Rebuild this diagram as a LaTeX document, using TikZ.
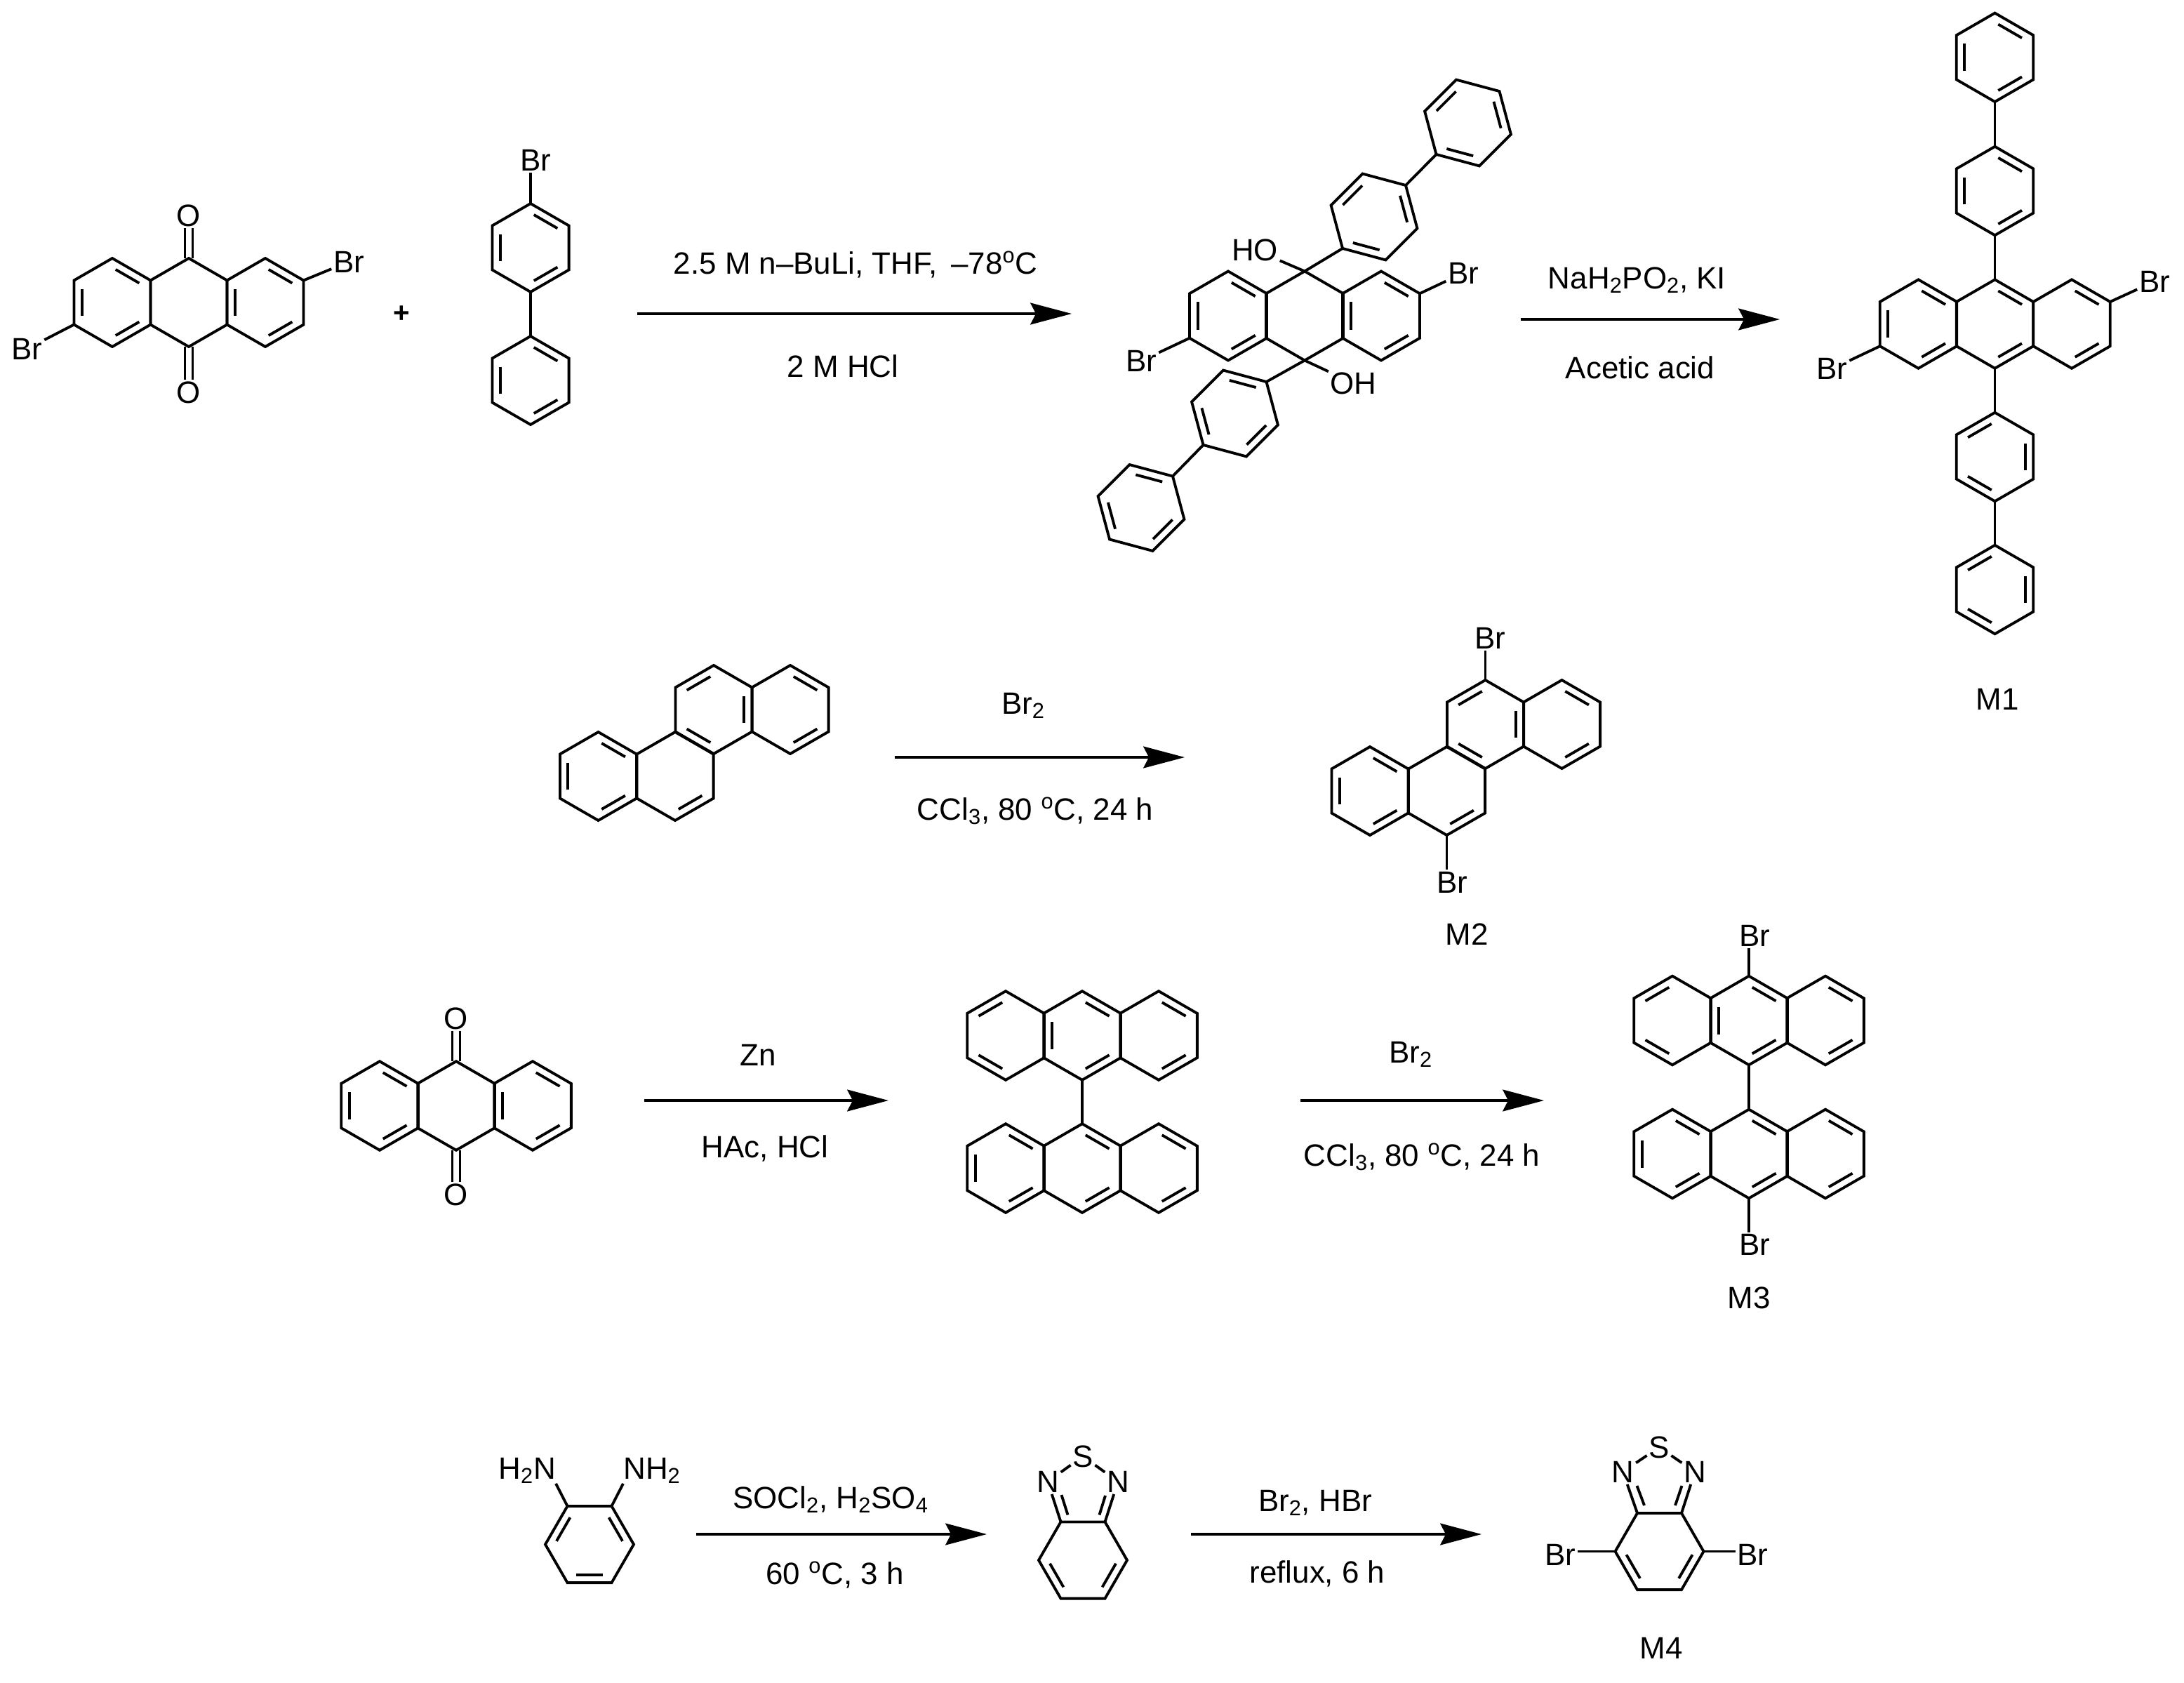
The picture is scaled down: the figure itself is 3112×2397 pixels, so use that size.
\documentclass[tikz,border=0pt]{standalone}
\usepackage{fontspec}
\setmainfont{Liberation Sans}
\usetikzlibrary{calc,arrows.meta}
\tikzset{
  bond/.style={line width=2.2pt,line join=miter,black},
  atom/.style={font=\fontsize{25}{30}\selectfont,inner sep=1.4pt,black},
  reagent/.style={font=\fontsize{25}{30}\selectfont,inner sep=0pt,anchor=base,black},
  rarrow/.style={line width=1.8pt,black,-{Stealth[length=33.5pt,width=17.6pt,inset=4.5pt]}},
}
% name, cx, cy, radius, rotation, list of double bonds
\newcommand\hexring[6]{%
  \coordinate (#1-c) at (#2,#3);
  \foreach \i in {1,...,6}{\coordinate (#1-\i) at ($(#2,#3)+({#5+60*(\i-1)}:#4)$);}
  \draw[bond] (#1-1) -- (#1-2) -- (#1-3) -- (#1-4) -- (#1-5) -- (#1-6) -- cycle;
  \foreach \b in {#6}{%
    \pgfmathtruncatemacro\nxt{mod(\b,6)+1}
    \draw[bond] ($($(#1-\b)!.11!(#1-\nxt)$)!.21!(#1-c)$) -- ($($(#1-\nxt)!.11!(#1-\b)$)!.21!(#1-c)$);
  }%
}
\begin{document}
\begin{tikzpicture}[x=.02cm,y=-.02cm]
\useasboundingbox (0,0) rectangle (3112,2397);
\fill[white] (0,0) rectangle (3112,2397);
% ---------- dibromoanthraquinone
\hexring{a}{160}{431}{63}{-90}{1,5,3}
\hexring{b}{269}{431}{63}{-90}{}
\hexring{d}{378}{431}{63}{-90}{1,3,5}
\node[atom] (aBrR) at (497,373) {Br};
\node[atom] (aBrL) at (38.5,497) {Br};
\node[atom] (aO1) at (269,307) {O};
\node[atom] (aO2) at (269,559) {O};
\draw[bond] (d-2) -- (aBrR);
\draw[bond] (a-5) -- (aBrL);
\draw[bond] ($(b-1)+(-5.5,0)$) -- ($(aO1.south)+(-5.5,0)$);
\draw[bond] ($(b-1)+(5.5,0)$) -- ($(aO1.south)+(5.5,0)$);
\draw[bond] ($(b-4)+(-5.5,0)$) -- ($(aO2.north)+(-5.5,0)$);
\draw[bond] ($(b-4)+(5.5,0)$) -- ($(aO2.north)+(5.5,0)$);
\node[atom,font=\fontsize{23}{28}\selectfont\bfseries] (plus) at (572,448) {+};
% ---------- 4-bromobiphenyl
\hexring{e}{756}{353}{63}{-90}{1,5,3}
\hexring{f}{756}{542}{63}{-90}{1,5,3}
\node[atom] (eBr) at (763,228) {Br};
\draw[bond] (e-1) -- (eBr.south -| e-1);
\draw[bond] (e-4) -- (f-1);
% ---------- arrow 1
\coordinate (r1s) at (907.5,447);
\coordinate (r1e) at (1527,447);
\draw[rarrow] (r1s) -- (r1e);
\node[reagent] (r1a) at (1219,390) {2.5 M n–BuLi, THF,\, –78\textsuperscript{o}C};
\node[reagent] (r1b) at (1201,537) {2 M HCl};
% ---------- diol
\hexring{g}{1750}{450}{63.5}{-90}{1,5,3}
\hexring{h}{1859}{450}{63.5}{-90}{}
\hexring{k}{1968}{450}{63.5}{-90}{1,3,5}
\node[atom] (gBrR) at (2085,389) {Br};
\node[atom] (gBrL) at (1626.5,514) {Br};
\node[atom] (gHO) at (1788,356) {HO};
\node[atom] (gOH) at (1928.6,546) {OH};
\draw[bond] (k-2) -- (gBrR);
\draw[bond] (g-5) -- (gBrL);
\draw[bond] (h-1) -- (gHO);
\draw[bond] (h-4) -- (gOH);
\hexring{m}{1958}{309}{63.6}{15}{2,4,6}
\hexring{n}{2091.5}{175}{63.6}{15}{2,4,6}
\hexring{p}{1759.5}{589}{63.6}{15}{1,3,5}
\hexring{q}{1626}{723.5}{63.6}{15}{1,3,5}
\draw[bond] (h-1) -- (m-3);
\draw[bond] (m-6) -- (n-3);
\draw[bond] (h-4) -- (p-6);
\draw[bond] (p-3) -- (q-6);
% ---------- arrow 2
\coordinate (r2s) at (2167,455);
\coordinate (r2e) at (2536,455);
\draw[rarrow] (r2s) -- (r2e);
\node[reagent] (r2a) at (2332.5,411) {NaH\textsubscript{2}PO\textsubscript{2}, KI};
\node[reagent] (r2b) at (2337,539) {Acetic acid};
% ---------- M1
\hexring{s}{2842.5}{81.8}{63.2}{-90}{1,5,3}
\hexring{t}{2842.5}{272}{63.2}{-90}{1,5,3}
\hexring{u}{2733.5}{461.6}{63.2}{-90}{1,5,3}
\hexring{v}{2842.5}{461.6}{63.2}{-90}{1,3}
\hexring{w}{2952}{461.6}{63.2}{-90}{1,3}
\hexring{y}{2842.5}{651}{63.2}{-90}{6,2,4}
\hexring{z}{2842.5}{840}{63.2}{-90}{6,2,4}
\draw[bond] (s-4) -- (t-1);
\draw[bond] (t-4) -- (v-1);
\draw[bond] (v-4) -- (y-1);
\draw[bond] (y-4) -- (z-1);
\node[atom] (wBr) at (3070,401) {Br};
\node[atom] (uBr) at (2610.5,525.5) {Br};
\draw[bond] (w-2) -- (wBr);
\draw[bond] (u-5) -- (uBr);
\node[atom] (M1) at (2846,996) {M1};
% ---------- chrysene
\hexring{ca}{852.5}{1106}{63}{-90}{1,5,3}
\hexring{cb}{962}{1106}{63}{-90}{3}
\hexring{cc}{1017}{1011}{63}{-90}{6,2,4}
\hexring{cd}{1126}{1011}{63}{-90}{1,3}
% ---------- arrow 3
\coordinate (r3s) at (1275,1079);
\coordinate (r3e) at (1688,1079);
\draw[rarrow] (r3s) -- (r3e);
\node[reagent] (r3a) at (1458,1017) {Br\textsubscript{2}};
\node[reagent] (r3b) at (1475,1168) {CCl\textsubscript{3}, 80 \textsuperscript{o}C, 24 h};
% ---------- M2
\hexring{da}{1952}{1127}{63}{-90}{1,5,3}
\hexring{db}{2061.5}{1127}{63}{-90}{3}
\hexring{dc}{2116.5}{1032}{63}{-90}{6,2,4}
\hexring{dd}{2225.5}{1032}{63}{-90}{1,3}
\node[atom] (dBr1) at (2123,909) {Br};
\node[atom] (dBr2) at (2069,1257) {Br};
\draw[bond] (dc-1) -- (dBr1.south -| dc-1);
\draw[bond] (db-4) -- (dBr2.north -| db-4);
\node[atom] (M2) at (2090,1331) {M2};
% ---------- anthraquinone
\hexring{ea}{541}{1575.5}{63.3}{-90}{1,5,3}
\hexring{eb}{650}{1575.5}{63.3}{-90}{}
\hexring{ec}{759}{1575.5}{63.3}{-90}{1,3,5}
\node[atom] (eO1) at (650,1451) {O};
\node[atom] (eO2) at (650,1702) {O};
\draw[bond] ($(eb-1)+(-5.5,0)$) -- ($(eO1.south)+(-5.5,0)$);
\draw[bond] ($(eb-1)+(5.5,0)$) -- ($(eO1.south)+(5.5,0)$);
\draw[bond] ($(eb-4)+(-5.5,0)$) -- ($(eO2.north)+(-5.5,0)$);
\draw[bond] ($(eb-4)+(5.5,0)$) -- ($(eO2.north)+(5.5,0)$);
% ---------- arrow 4
\coordinate (r4s) at (918,1568);
\coordinate (r4e) at (1266,1568);
\draw[rarrow] (r4s) -- (r4e);
\node[reagent] (r4a) at (1080,1518) {Zn};
\node[reagent] (r4b) at (1090,1649) {HAc, HCl};
% ---------- bianthryl
\hexring{fa}{1433}{1475.5}{63.3}{-90}{6,4}
\hexring{fb}{1542}{1475.5}{63.3}{-90}{5,1,3}
\hexring{fc}{1651}{1475.5}{63.3}{-90}{1,3}
\hexring{ga}{1433}{1664.5}{63.3}{-90}{1,5,3}
\hexring{gb}{1542}{1664.5}{63.3}{-90}{1,3}
\hexring{gc}{1651}{1664.5}{63.3}{-90}{1,3}
\draw[bond] (fb-4) -- (gb-1);
% ---------- arrow 5
\coordinate (r5s) at (1853,1568);
\coordinate (r5e) at (2200,1568);
\draw[rarrow] (r5s) -- (r5e);
\node[reagent] (r5a) at (2010,1514) {Br\textsubscript{2}};
\node[reagent] (r5b) at (2026,1661) {CCl\textsubscript{3}, 80 \textsuperscript{o}C, 24 h};
% ---------- M3
\hexring{ha}{2383}{1454}{63.3}{-90}{6,4}
\hexring{hb}{2492}{1454}{63.3}{-90}{5,1,3}
\hexring{hc}{2601}{1454}{63.3}{-90}{1,3}
\hexring{ja}{2383}{1644}{63.3}{-90}{1,5,3}
\hexring{jb}{2492}{1644}{63.3}{-90}{1,3}
\hexring{jc}{2601}{1644}{63.3}{-90}{1,3}
\draw[bond] (hb-4) -- (jb-1);
\node[atom] (hBr) at (2500,1333) {Br};
\node[atom] (jBr) at (2500,1773.5) {Br};
\draw[bond] (hb-1) -- (hBr.south -| hb-1);
\draw[bond] (jb-4) -- (jBr.north -| jb-4);
\node[atom] (M3) at (2492,1849) {M3};
% ---------- o-phenylenediamine
\hexring{la}{840}{2200.5}{63}{0}{2,4,6}
\node[reagent] (h2n) at (751,2107) {H\textsubscript{2}N};
\node[reagent] (nh2) at (929,2107) {NH\textsubscript{2}};
\draw[bond] (la-5) -- (h2n.south east);
\draw[bond] (la-6) -- (nh2.south west);
% ---------- arrow 6
\coordinate (r6s) at (992,2186);
\coordinate (r6e) at (1406,2186);
\draw[rarrow] (r6s) -- (r6e);
\node[reagent] (r6a) at (1183.5,2149) {SOCl\textsubscript{2}, H\textsubscript{2}SO\textsubscript{4}};
\node[reagent] (r6b) at (1189.5,2257) {60 \textsuperscript{o}C, 3 h};
% ---------- benzothiadiazole
\hexring{ma}{1543}{2223}{63}{0}{1,3}
\node[atom] (mNl) at (1493,2111) {N};
\node[atom] (mNr) at (1593,2111) {N};
\node[atom] (mS) at (1543,2075) {S};
\draw[bond] (ma-5) -- (mNl);
\draw[bond] (ma-6) -- (mNr);
\draw[bond] ($(ma-5)+(10,-10)$) -- ($(mNl)+(19.5,19)$);
\draw[bond] ($(ma-6)+(-8,-10)$) -- ($(mNr)+(-18,20)$);
\draw[bond] (mS) -- (mNl);
\draw[bond] (mS) -- (mNr);
% ---------- arrow 7
\coordinate (r7s) at (1697,2186);
\coordinate (r7e) at (2111,2186);
\draw[rarrow] (r7s) -- (r7e);
\node[reagent] (r7a) at (1874,2153) {Br\textsubscript{2}, HBr};
\node[reagent] (r7b) at (1877,2255) {reflux, 6 h};
% ---------- M4
\hexring{na}{2364.5}{2210.5}{63}{0}{1,3}
\node[atom] (nNl) at (2312.5,2097) {N};
\node[atom] (nNr) at (2415,2097) {N};
\node[atom] (nS) at (2364,2062) {S};
\node[atom] (nBl) at (2223.5,2215) {Br};
\node[atom] (nBr) at (2497.5,2215) {Br};
\draw[bond] (na-5) -- (nNl);
\draw[bond] (na-6) -- (nNr);
\draw[bond] ($(na-5)+(10,-11)$) -- ($(nNl)+(20,20)$);
\draw[bond] ($(na-6)+(-9,-11)$) -- ($(nNr)+(-18.5,20)$);
\draw[bond] (nS) -- (nNl);
\draw[bond] (nS) -- (nNr);
\draw[bond] (na-4) -- (nBl.east |- na-4);
\draw[bond] (na-1) -- (nBr.west |- na-1);
\node[atom] (M4) at (2367,2348) {M4};
\end{tikzpicture}
\end{document}
